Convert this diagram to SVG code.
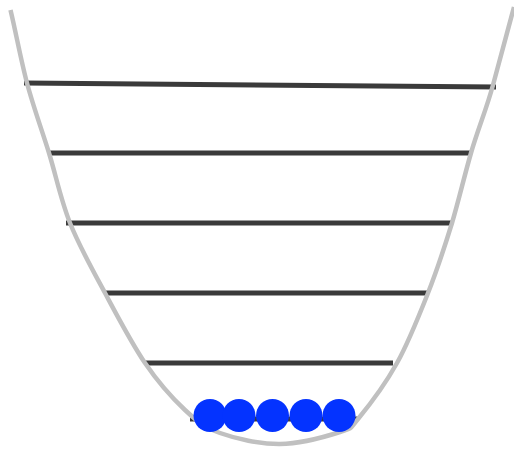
<svg xmlns="http://www.w3.org/2000/svg" width="514" height="454" viewBox="0 0 514 454">
<style>
.level{stroke:#3a3a3a;stroke-width:5;fill:none}
.well{stroke:#c0c0c0;stroke-width:4.5;fill:none;stroke-linecap:butt}
.ball{fill:#0433ff}
</style>
<rect width="514" height="454" fill="#ffffff"/>
<g id="levels">
<line id="level1" class="level" x1="24" y1="83" x2="496" y2="87"/>
<line id="level2" class="level" x1="48" y1="153" x2="472" y2="153"/>
<line id="level3" class="level" x1="66" y1="223" x2="453" y2="223"/>
<line id="level4" class="level" x1="104" y1="293" x2="428" y2="293"/>
<line id="level5" class="level" x1="145" y1="363" x2="393" y2="363"/>
<line id="level6" class="level" x1="190" y1="419" x2="358" y2="419"/>
</g>
<g id="well">
<path class="well" d="M10.5,10 C16.3,34.3 20.7,59.2 27,83 C33.3,106.8 41.8,129.7 49,153 C56.2,176.3 60.7,199.7 70,223 C79.3,246.3 92.5,269.7 105,293 C117.5,316.3 131.7,343.5 145,363 C158.3,382.5 172.5,398.3 185,410 C197.5,421.7 204.2,427.3 220,433 C235.8,438.7 260,444.2 280,444 C300,443.8 327,436.2 340,432 C353,427.8 348.5,430.5 358,419 C367.5,407.5 385.3,384 397,363 C408.7,342 418.8,316.3 428,293 C437.2,269.7 444.8,246.3 452,223 C458.8,200 464.2,176.5 471,153 C477.8,129.5 486.7,108.5 493,85 C499.3,61.5 507,33 514,7"/>
</g>
<g id="balls">
<circle id="ball1" class="ball" cx="210" cy="415.5" r="16.5"/>
<circle id="ball2" class="ball" cx="239" cy="415.5" r="16.5"/>
<circle id="ball3" class="ball" cx="272.5" cy="415.5" r="16.5"/>
<circle id="ball4" class="ball" cx="306" cy="415.5" r="16.5"/>
<circle id="ball5" class="ball" cx="339" cy="415.5" r="16.5"/>
</g>
</svg>
